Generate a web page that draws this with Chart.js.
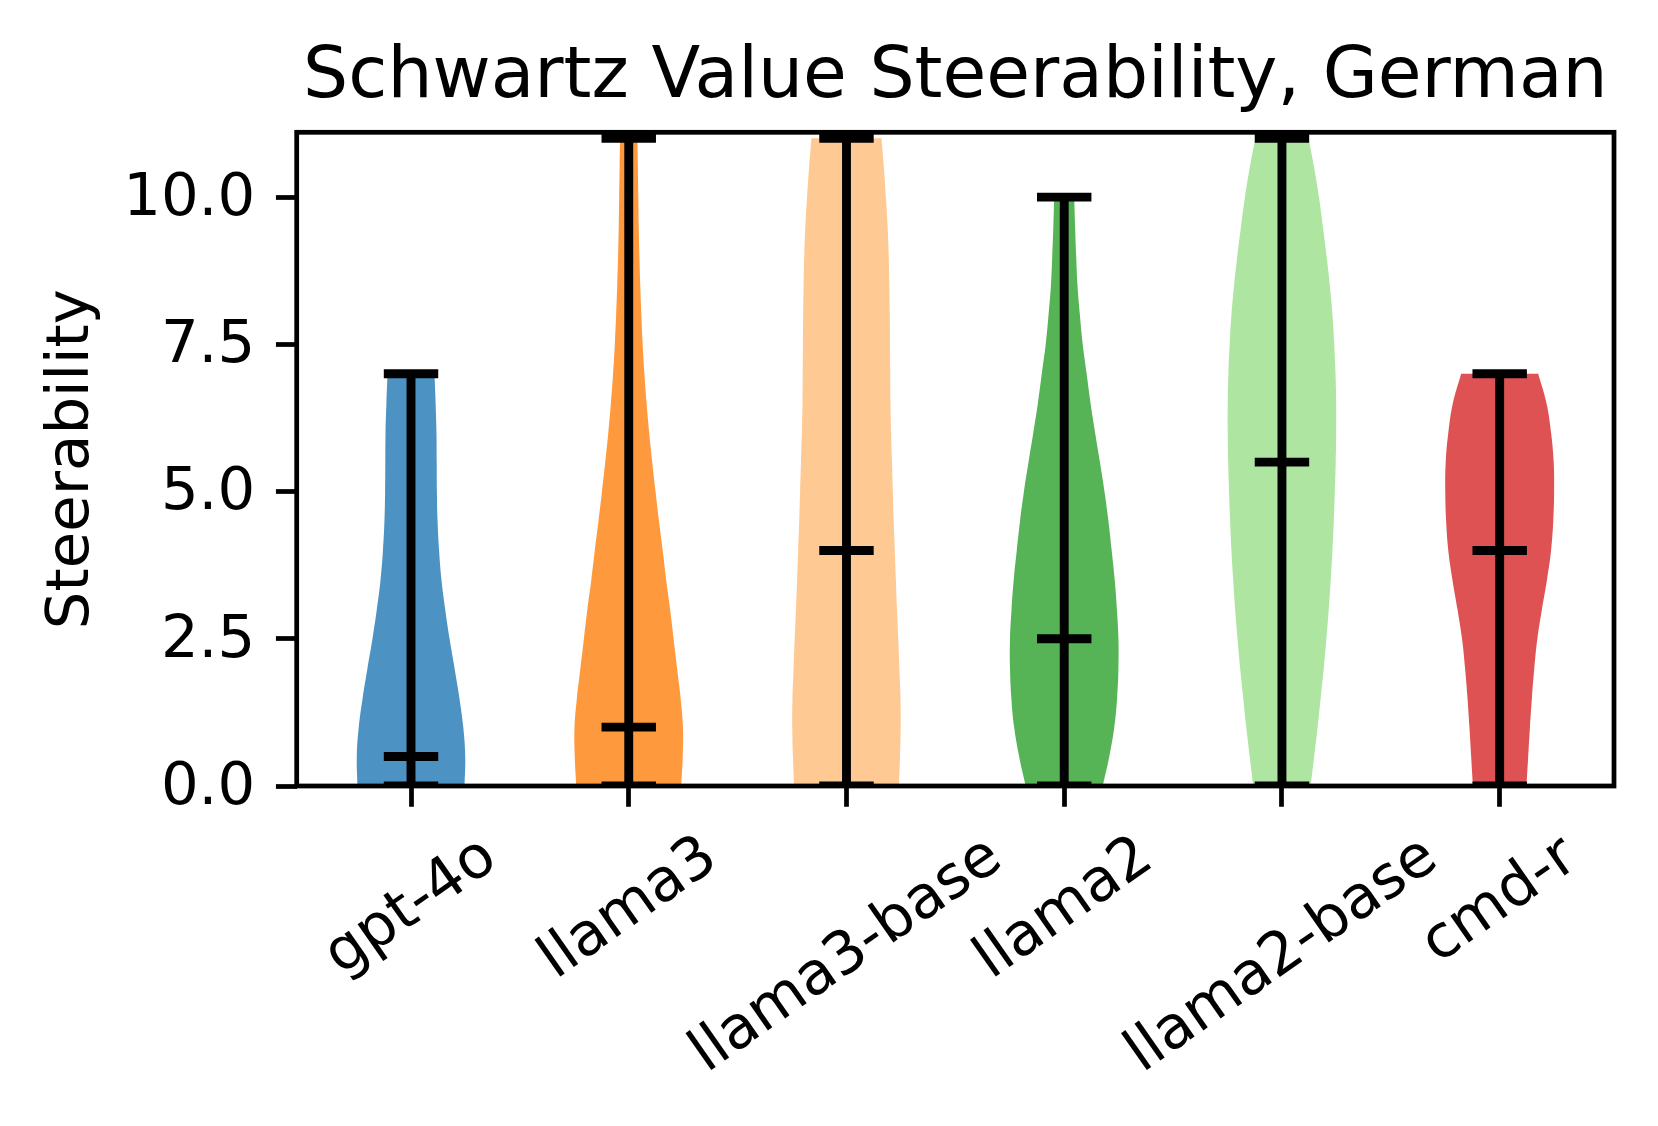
<!DOCTYPE html>
<html>
<head>
<meta charset="utf-8">
<script src="https://cdn.jsdelivr.net/npm/chart.js@4.4.1/dist/chart.umd.min.js"></script>
<style>
html,body{margin:0;padding:0;background:#ffffff;}
canvas{display:block;}
</style>
</head>
<body>
<canvas id="chart" width="1658" height="1126"></canvas>
<script>
// ---------------- data ----------------
const titleText = 'Schwartz Value Steerability, German';
const yAxisTitle = 'Steerability';
const categories = ['gpt-4o', 'llama3', 'llama3-base', 'llama2', 'llama2-base', 'cmd-r'];
const positions = [1, 2, 3, 4, 5, 6];
const mins = [0, 0, 0, 0, 0, 0];
const maxs = [7, 11, 11, 10, 11, 7];
const medians = [0.5, 1, 4, 2.5, 5.5, 4];
const yTicks = [0, 2.5, 5, 7.5, 10];

// violin half-widths (x units) at these steerability levels
const profileY = [0, 0.5, 1, 1.5, 2, 2.5, 3, 3.5, 4, 4.5, 5, 5.5, 6, 6.5, 7, 7.5, 8, 8.5, 9, 9.5, 10, 10.5, 11];
const widthGpt4o      = [0.246, 0.249, 0.240, 0.222, 0.200, 0.177, 0.157, 0.140, 0.129, 0.122, 0.119, 0.118, 0.117, 0.113, 0.108];
const widthLlama3     = [0.241, 0.248, 0.249, 0.238, 0.222, 0.206, 0.190, 0.172, 0.156, 0.139, 0.123, 0.108, 0.094, 0.082, 0.072, 0.064, 0.058, 0.053, 0.049, 0.046, 0.044, 0.042, 0.040];
const widthLlama3Base = [0.241, 0.246, 0.249, 0.248, 0.243, 0.238, 0.232, 0.227, 0.222, 0.217, 0.213, 0.209, 0.205, 0.202, 0.201, 0.200, 0.199, 0.197, 0.194, 0.189, 0.181, 0.172, 0.161];
const widthLlama2     = [0.177, 0.207, 0.230, 0.243, 0.249, 0.249, 0.242, 0.232, 0.218, 0.203, 0.185, 0.164, 0.142, 0.121, 0.103, 0.085, 0.072, 0.061, 0.055, 0.050, 0.046];
const widthLlama2Base = [0.132, 0.148, 0.164, 0.178, 0.192, 0.204, 0.215, 0.224, 0.232, 0.238, 0.243, 0.247, 0.249, 0.249, 0.246, 0.240, 0.232, 0.220, 0.205, 0.188, 0.170, 0.148, 0.122];
const widthCmdR       = [0.123, 0.131, 0.139, 0.148, 0.159, 0.173, 0.194, 0.217, 0.236, 0.246, 0.250, 0.248, 0.236, 0.215, 0.177];
const violinWidths = [widthGpt4o, widthLlama3, widthLlama3Base, widthLlama2, widthLlama2Base, widthCmdR];

const bodyColors = [
  'rgba(31,119,180,0.8)', 'rgba(255,127,14,0.8)', 'rgba(255,187,120,0.8)',
  'rgba(44,160,44,0.8)', 'rgba(152,223,138,0.8)', 'rgba(214,39,40,0.8)'
];

// ---------------- styling constants ----------------
const PT = 5.93;                 // px per point in the reference
const FONT = '"DejaVu Sans"';
const tickFont = 10 * PT;
const titleFont = 12 * PT;
const lineW = 1.5 * PT;
const spineW = 0.8 * PT;
const tickLen = 3.5 * PT;
const tickPad = 3.5 * PT;
const capHalf = 0.125;
const labelRot = 35;

// ---------------- datasets ----------------
function violinPoints(c, halfW) {
  const n = halfW.length;
  const pts = [];
  for (let k = 0; k < n; k++) pts.push({x: c + halfW[k], y: profileY[k]});
  pts.push({x: c + halfW[n - 1], y: profileY[n - 1]});
  pts.push({x: c - halfW[n - 1], y: profileY[n - 1]});
  for (let k = n - 1; k >= 0; k--) pts.push({x: c - halfW[k], y: profileY[k]});
  return pts;
}
function whiskerPoints(i) {
  const c = positions[i];
  return [
    {x: c, y: mins[i]}, {x: c, y: maxs[i]}, {x: c, y: null},
    {x: c - capHalf, y: maxs[i]}, {x: c + capHalf, y: maxs[i]}, {x: c, y: null},
    {x: c - capHalf, y: mins[i]}, {x: c + capHalf, y: mins[i]}, {x: c, y: null},
    {x: c - capHalf, y: medians[i]}, {x: c + capHalf, y: medians[i]}
  ];
}

const datasets = [];
categories.forEach((name, i) => {
  datasets.push({
    label: name + ' lines',
    data: whiskerPoints(i),
    order: 0,
    borderColor: '#000000',
    borderWidth: lineW,
    borderCapStyle: 'butt',
    pointRadius: 0,
    pointHoverRadius: 0,
    tension: 0,
    fill: false,
    spanGaps: false,
    clip: 0
  });
});
categories.forEach((name, i) => {
  datasets.push({
    label: name,
    data: violinPoints(positions[i], violinWidths[i]),
    order: 1,
    borderColor: 'rgba(0,0,0,0)',
    borderWidth: 0,
    backgroundColor: bodyColors[i],
    pointRadius: 0,
    pointHoverRadius: 0,
    tension: 0.4,
    fill: 'shape',
    clip: 0
  });
});

// ---------------- decorations plugin ----------------
const decor = {
  id: 'decor',
  afterDraw(chart) {
    const {ctx, chartArea: a} = chart;
    const xs = chart.scales.x;
    ctx.save();
    // frame
    ctx.strokeStyle = '#000';
    ctx.lineWidth = spineW;
    ctx.lineJoin = 'miter';
    ctx.strokeRect(a.left, a.top, a.right - a.left, a.bottom - a.top);
    // title
    ctx.fillStyle = '#000';
    ctx.font = titleFont + 'px ' + FONT;
    ctx.textAlign = 'center';
    ctx.textBaseline = 'alphabetic';
    ctx.fillText(titleText, (a.left + a.right) / 2, a.top - 6 * PT);
    // y axis title
    ctx.font = tickFont + 'px ' + FONT;
    ctx.save();
    ctx.translate(87.5, (a.top + a.bottom) / 2);
    ctx.rotate(-Math.PI / 2);
    ctx.textAlign = 'center';
    ctx.fillText(yAxisTitle, 0, 0);
    ctx.restore();
    // rotated x tick labels (bbox centred on tick, like matplotlib)
    const th = labelRot * Math.PI / 180;
    const hb = 0.968 * tickFont;
    categories.forEach((lab, i) => {
      const px = xs.getPixelForValue(positions[i]);
      const w = ctx.measureText(lab).width;
      const H = w * Math.sin(th) + hb * Math.cos(th);
      const cy = a.bottom + tickLen + tickPad + H / 2;
      ctx.save();
      ctx.translate(px, cy);
      ctx.rotate(-th);
      ctx.textAlign = 'center';
      ctx.textBaseline = 'alphabetic';
      ctx.fillText(lab, 0, 0.276 * tickFont);
      ctx.restore();
    });
    ctx.restore();
  }
};

// ---------------- chart ----------------
new Chart(document.getElementById('chart'), {
  type: 'line',
  data: {datasets},
  plugins: [decor],
  options: {
    responsive: false,
    devicePixelRatio: 1,
    animation: false,
    events: [],
    layout: {padding: {left: 0, top: 132.3, right: 44, bottom: 0}},
    plugins: {legend: {display: false}, tooltip: {enabled: false}, title: {display: false}},
    scales: {
      x: {
        type: 'linear',
        min: 0.475,
        max: 6.525,
        afterBuildTicks: (s) => { s.ticks = positions.map(v => ({value: v})); },
        afterFit: (s) => { s.height = 340; },
        grid: {display: true, drawOnChartArea: false, drawTicks: true, tickLength: tickLen, tickWidth: spineW, tickColor: '#000'},
        border: {display: false},
        ticks: {display: false}
      },
      y: {
        type: 'linear',
        min: 0,
        max: 11.1,
        afterBuildTicks: (s) => { s.ticks = yTicks.map(v => ({value: v})); },
        afterFit: (s) => { s.width = 296.7; },
        grid: {display: true, drawOnChartArea: false, drawTicks: true, tickLength: tickLen, tickWidth: spineW, tickColor: '#000'},
        border: {display: false},
        ticks: {
          color: '#000',
          font: {family: 'DejaVu Sans', size: tickFont},
          padding: tickPad,
          labelOffset: 2.5,
          callback: (v) => Number(v).toFixed(1)
        }
      }
    }
  }
});
</script>
</body>
</html>
